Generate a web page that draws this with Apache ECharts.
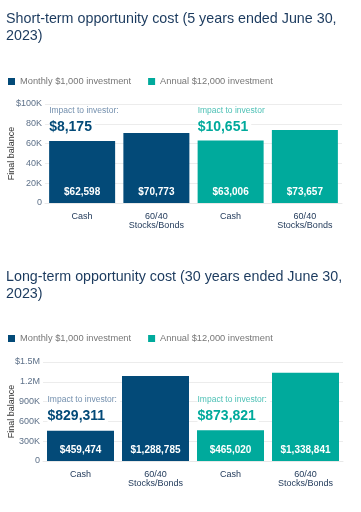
<!DOCTYPE html>
<html><head><meta charset="utf-8">
<script src="https://cdn.jsdelivr.net/npm/echarts@6/dist/echarts.min.js"></script>
<style>html,body{margin:0;padding:0;background:#fff}#c{width:361px;height:512px}</style>
</head><body><div id="c"></div>
<script>
var categories = ["Cash", "60/40\nStocks/Bonds", "Cash", "60/40\nStocks/Bonds"];
var seriesNames = ["Monthly $1,000 investment", "Annual $12,000 investment"];
var shortMonthly = [62598, 70773, "-", "-"];
var shortAnnual = ["-", "-", 63006, 73657];
var longMonthly = [459474, 1288785, "-", "-"];
var longAnnual = ["-", "-", 465020, 1338841];
var shortTicks = [0, 20000, 40000, 60000, 80000, 100000];
var longTicks = [0, 300000, 600000, 900000, 1200000, 1500000];
var titles = ["Short-term opportunity cost (5 years ended June 30,\n2023)", "Long-term opportunity cost (30 years ended June 30,\n2023)"];
var impactLabels = ["Impact to investor:", "Impact to investor", "Impact to investor:", "Impact to investor:"];

var NAVY = "#034a78", TEAL = "#00aa9c";
var FONT = "'Liberation Sans', Arial, sans-serif";
function money(v){ return "$" + Math.round(v).toLocaleString("en-US"); }
function shortFmt(v){ if (v===0) return "0"; var s=(v/1000)+"K"; return v===shortTicks[shortTicks.length-1] ? "$"+s : s; }
function longFmt(v){ if (v===0) return "0"; var s = v>=1000000 ? (v/1000000)+"M" : (v/1000)+"K"; return v===longTicks[longTicks.length-1] ? "$"+s : s; }

var grids = [
  {left:45,right:19,top:104,height:99,containLabel:false,outerBoundsMode:"none"},
  {left:43,right:18,top:362,height:99,containLabel:false,outerBoundsMode:"none"}
];
function xAxis(i){ return {type:"category",gridIndex:i,data:categories,axisTick:{show:false},
  axisLine:{show:true,lineStyle:{color:"#e8e8e8"}},
  axisLabel:{color:"#1c3556",fontSize:9,fontFamily:FONT,lineHeight:9,margin:9,interval:0}}; }
function yAxis(i,ticks,fmt,margin,gap){ return {type:"value",gridIndex:i,min:0,max:ticks[ticks.length-1],interval:ticks[1]-ticks[0],
  name:"Final balance",nameLocation:"middle",nameRotate:90,nameGap:gap,nameMoveOverlap:false,
  nameTextStyle:{color:"#333",fontSize:9,fontFamily:FONT},
  axisLabel:{formatter:fmt,color:"#5e7189",fontSize:9,fontFamily:FONT,margin:margin},
  splitLine:{lineStyle:{color:"#ececec"}},axisLine:{show:false},axisTick:{show:false}}; }
function bar(name,data,color,i,w){ return {type:"bar",name:name,data:data,xAxisIndex:i,yAxisIndex:i,barWidth:w,barGap:"-100%",
  itemStyle:{color:color},
  label:{show:true,position:"insideBottom",distance:6,color:"#fff",fontWeight:"bold",fontSize:10,fontFamily:FONT,
    formatter:function(p){return money(p.value);}}}; }
function legend(top){ return {top:top,left:8,padding:0,itemWidth:7,itemHeight:7,icon:"rect",itemGap:17,
  textStyle:{color:"#777",fontSize:9.3,fontFamily:FONT},data:seriesNames}; }
function title(text,top){ return {text:text,left:6,top:top,padding:0,
  textStyle:{color:"#1b3a5e",fontSize:14.3,fontWeight:"normal",fontFamily:FONT,lineHeight:17}}; }

var chart = echarts.init(document.getElementById("c"), null, {renderer:"canvas"});
chart.setOption({
  animation:false,
  color:[NAVY,TEAL],
  title:[title(titles[0],11),title(titles[1],269)],
  legend:[legend(77),legend(334)],
  grid:grids,
  xAxis:[xAxis(0),xAxis(1)],
  yAxis:[yAxis(0,shortTicks,shortFmt,3,29),yAxis(1,longTicks,longFmt,3,27)],
  series:[bar(seriesNames[0],shortMonthly,NAVY,0,66),bar(seriesNames[1],shortAnnual,TEAL,0,66),
          bar(seriesNames[0],longMonthly,NAVY,1,67),bar(seriesNames[1],longAnnual,TEAL,1,67)]
});

var impacts = [
  {grid:0,cat:0,lab:impactLabels[0],val:shortMonthly[1]-shortMonthly[0],c1:"#7490ae",c2:NAVY,y1:93000,y2:77000},
  {grid:0,cat:2,lab:impactLabels[1],val:shortAnnual[3]-shortAnnual[2],c1:"#4fc1b6",c2:TEAL,y1:93000,y2:77000},
  {grid:1,cat:0,lab:impactLabels[2],val:longMonthly[1]-longMonthly[0],c1:"#7490ae",c2:NAVY,y1:924000,y2:682000},
  {grid:1,cat:2,lab:impactLabels[3],val:longAnnual[3]-longAnnual[2],c1:"#4fc1b6",c2:TEAL,y1:924000,y2:682000}
];
var els = [];
impacts.forEach(function(m){
  var p1 = chart.convertToPixel({xAxisIndex:m.grid,yAxisIndex:m.grid},[m.cat,m.y1]);
  var p2 = chart.convertToPixel({xAxisIndex:m.grid,yAxisIndex:m.grid},[m.cat,m.y2]);
  var x = p1[0]-33;
  els.push({type:"text",x:x,y:p1[1],z:10,style:{text:m.lab,fill:m.c1,fontSize:8.5,fontFamily:FONT,verticalAlign:"middle",backgroundColor:"#fff",padding:[1,3,1,0]}});
  els.push({type:"text",x:x,y:p2[1],z:10,style:{text:money(m.val),fill:m.c2,fontSize:14,fontWeight:"bold",fontFamily:FONT,verticalAlign:"middle",backgroundColor:"#fff",padding:[1,3,1,0]}});
});
chart.setOption({graphic:els});
</script></body></html>
